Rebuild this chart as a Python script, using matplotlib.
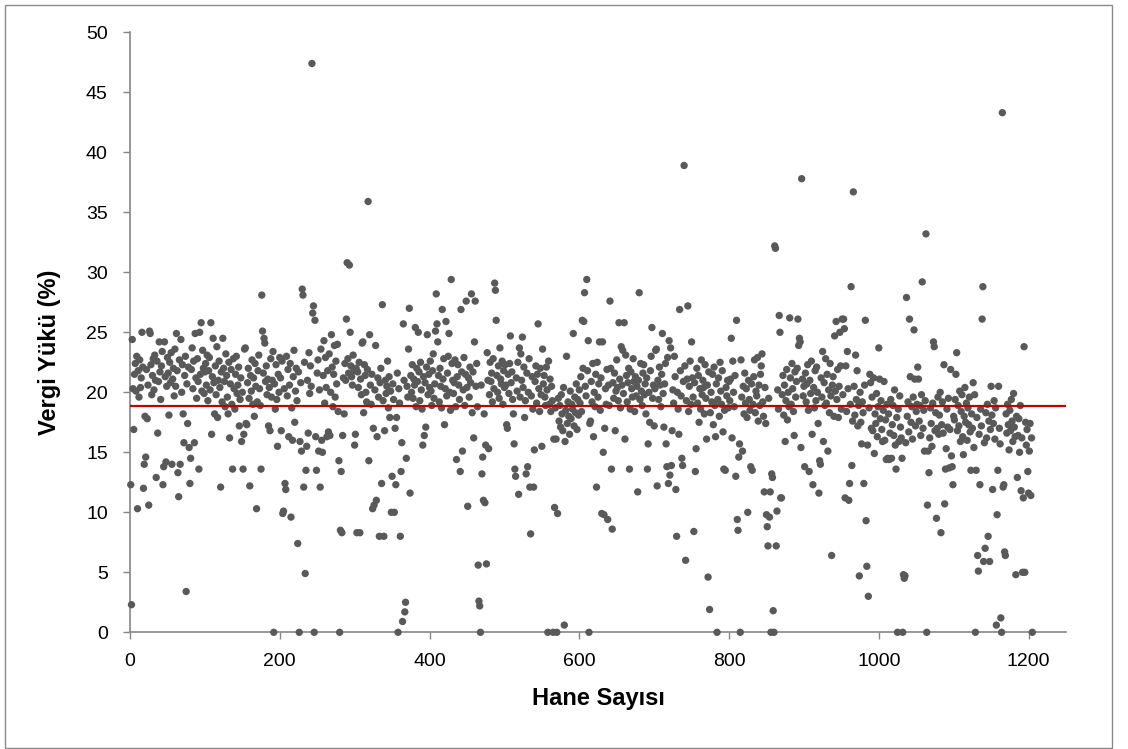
import numpy as np
import matplotlib
matplotlib.use("Agg")
import matplotlib.pyplot as plt
from matplotlib.patches import Rectangle

plt.rcParams['font.family'] = ['Liberation Sans', 'DejaVu Sans']

# ---- data: tax burden (%) per household, households numbered 1..1205 ----
vergi_001 = [12.3, 2.3, 24.4, 20.3, 16.9, 21.5, 22.4, 20.1, 23.0, 10.3,
             21.8, 19.6, 22.7, 20.4, 21.2, 25.0, 22.1, 12.0, 14.0, 18.0,
             14.6, 21.9, 17.8, 20.6, 10.6, 25.1, 24.9, 22.3, 19.8, 21.4,
             22.8, 20.2, 23.1, 21.0, 12.9, 22.6, 16.6, 20.9, 24.2, 21.7,
             19.4, 22.2, 23.4, 12.3, 13.8, 24.2, 21.3, 14.2, 20.5, 22.9]
vergi_051 = [21.6, 18.1, 22.5, 20.8, 23.3, 14.0, 21.1, 22.0, 19.7, 23.6,
             20.5, 24.9, 21.8, 13.3, 11.3, 22.7, 14.0, 24.4, 20.0, 22.3,
             18.2, 15.8, 21.4, 23.0, 3.4, 20.7, 17.4, 22.1, 15.4, 12.4,
             14.5, 21.9, 23.7, 20.3, 22.6, 15.8, 24.9, 21.2, 19.5, 22.8,
             20.9, 13.6, 25.0, 21.5, 25.8, 20.1, 23.5, 22.0, 19.9, 21.7]
vergi_101 = [22.4, 20.6, 23.1, 19.3, 21.8, 22.9, 20.2, 25.8, 16.5, 21.3,
             24.5, 20.8, 18.2, 22.2, 19.8, 23.8, 17.9, 21.0, 22.6, 20.4,
             12.1, 21.7, 19.2, 24.5, 22.0, 20.9, 18.8, 23.2, 21.4, 19.6,
             18.2, 22.5, 16.2, 20.7, 21.9, 19.0, 13.6, 22.8, 20.3, 18.6,
             21.5, 23.0, 19.9, 20.6, 22.1, 17.2, 19.4, 21.2, 15.9, 20.0]
vergi_151 = [13.6, 16.5, 23.6, 23.7, 17.4, 17.3, 20.8, 22.0, 19.5, 12.2,
             21.4, 20.1, 22.7, 19.0, 21.2, 18.0, 22.4, 20.5, 10.3, 19.2,
             21.8, 23.1, 20.3, 18.9, 13.6, 28.1, 25.1, 21.6, 24.5, 24.1,
             20.9, 22.2, 19.8, 21.1, 17.2, 20.4, 16.8, 22.8, 19.6, 21.0,
             23.4, 0.0, 20.7, 18.6, 22.3, 19.4, 15.5, 21.5, 20.0, 22.9]
vergi_201 = [21.2, 16.8, 22.6, 9.9, 10.1, 20.3, 12.4, 11.9, 23.0, 19.7,
             21.9, 16.3, 20.6, 22.4, 9.6, 18.7, 16.0, 21.3, 23.5, 17.5,
             20.1, 22.0, 19.3, 7.4, 21.7, 0.0, 15.9, 20.8, 15.1, 28.6,
             28.1, 12.1, 22.5, 4.9, 13.5, 15.5, 21.0, 16.6, 23.3, 19.9,
             22.2, 20.5, 47.4, 26.6, 27.2, 0.0, 26.0, 16.3, 13.5, 21.6]
vergi_251 = [22.7, 15.1, 20.2, 12.1, 23.6, 16.0, 15.0, 21.4, 24.3, 19.1,
             22.9, 20.4, 16.3, 21.8, 16.7, 23.2, 16.4, 20.0, 24.8, 22.1,
             18.8, 21.5, 23.9, 19.6, 22.6, 20.7, 24.0, 18.4, 14.3, 0.0,
             8.5, 13.4, 8.3, 16.4, 21.2, 18.2, 22.4, 21.0, 26.1, 30.8,
             22.8, 21.6, 30.6, 25.0, 22.2, 21.3, 20.6, 23.1, 21.8, 15.6]
vergi_301 = [16.5, 22.0, 8.3, 21.7, 20.4, 22.5, 8.3, 21.1, 19.8, 24.1,
             24.2, 18.3, 22.3, 21.4, 20.0, 19.2, 21.9, 35.9, 14.3, 24.8,
             20.6, 19.0, 21.5, 10.3, 17.0, 10.6, 20.2, 23.9, 11.0, 16.3,
             21.2, 19.6, 8.0, 20.8, 22.0, 12.4, 27.3, 19.3, 8.0, 16.8,
             21.0, 19.9, 20.5, 22.6, 18.7, 21.3, 17.9, 20.1, 10.0, 13.0]
vergi_351 = [20.7, 19.4, 10.0, 17.0, 12.3, 17.9, 21.6, 0.0, 20.3, 19.1,
             8.0, 13.4, 15.8, 0.9, 25.7, 21.0, 1.7, 2.5, 14.5, 20.5,
             19.6, 23.6, 27.0, 11.6, 21.4, 20.0, 22.3, 19.5, 21.1, 20.6,
             25.4, 18.8, 22.0, 20.9, 25.0, 21.7, 19.3, 22.5, 20.2, 18.6,
             15.6, 21.3, 16.4, 20.8, 17.1, 22.1, 24.8, 19.8, 21.5, 20.4]
vergi_401 = [22.6, 20.1, 18.9, 21.8, 23.2, 19.5, 20.7, 25.1, 28.2, 25.7,
             24.2, 21.4, 19.2, 22.0, 20.5, 18.7, 26.9, 21.1, 22.8, 17.3,
             20.3, 25.9, 19.7, 21.6, 23.0, 24.9, 20.0, 18.5, 29.4, 22.4,
             21.0, 19.9, 20.8, 22.7, 18.8, 14.4, 21.3, 22.3, 20.6, 19.4,
             13.4, 26.9, 21.7, 15.1, 20.2, 22.9, 18.9, 21.5, 27.6, 20.4]
vergi_451 = [10.5, 21.2, 19.6, 22.1, 20.8, 28.2, 18.3, 21.7, 16.2, 24.2,
             27.6, 20.5, 22.4, 18.8, 5.6, 2.6, 2.2, 0.0, 20.6, 13.2,
             14.6, 11.0, 18.2, 10.8, 15.6, 5.7, 23.3, 21.0, 15.3, 19.8,
             22.5, 20.9, 21.6, 19.2, 22.8, 20.3, 29.1, 28.5, 26.0, 21.4,
             20.0, 22.2, 19.5, 23.7, 21.1, 20.7, 22.6, 19.0, 21.8, 20.4]
vergi_501 = [22.3, 20.6, 17.3, 17.0, 21.5, 19.9, 22.4, 24.7, 20.8, 21.7,
             19.4, 18.2, 15.7, 13.6, 13.0, 21.2, 20.1, 22.5, 11.5, 23.7,
             19.6, 23.2, 21.0, 24.6, 20.4, 22.1, 17.9, 19.3, 13.2, 21.6,
             13.8, 20.0, 22.8, 12.1, 8.2, 19.7, 21.3, 18.6, 12.1, 15.2,
             20.9, 22.2, 19.1, 21.5, 25.7, 20.3, 18.4, 22.0, 19.8, 15.5]
vergi_551 = [23.6, 20.7, 21.4, 19.6, 18.9, 22.1, 20.2, 0.0, 22.6, 19.0,
             21.1, 18.4, 20.5, 19.3, 0.0, 16.1, 10.4, 18.7, 16.1, 0.0,
             9.9, 19.5, 17.6, 18.9, 17.1, 19.8, 18.2, 16.8, 20.4, 0.6,
             15.9, 18.5, 23.0, 17.4, 19.2, 18.0, 16.5, 20.1, 17.8, 19.0,
             18.6, 24.9, 17.2, 19.6, 18.3, 20.7, 16.9, 19.4, 18.1, 20.2]
vergi_601 = [19.1, 21.3, 18.4, 26.0, 22.0, 25.9, 28.3, 20.5, 19.7, 29.4,
             21.8, 24.3, 0.0, 17.4, 17.6, 20.9, 19.2, 22.4, 16.3, 20.0,
             18.8, 21.5, 12.1, 22.5, 19.6, 20.7, 24.2, 18.5, 21.2, 9.9,
             24.2, 15.0, 9.8, 17.0, 20.3, 19.0, 21.9, 9.4, 20.6, 18.9,
             27.6, 22.0, 13.6, 8.6, 20.8, 19.5, 21.6, 16.8, 20.1, 22.7]
vergi_651 = [20.4, 19.3, 25.8, 21.1, 18.7, 23.8, 20.6, 23.5, 19.9, 25.8,
             16.1, 23.1, 21.4, 19.2, 20.8, 22.0, 13.6, 18.6, 21.7, 20.3,
             19.6, 22.8, 20.9, 18.4, 21.3, 19.7, 20.5, 11.7, 21.0, 28.3,
             19.4, 22.4, 20.1, 18.9, 21.6, 22.3, 19.8, 20.7, 18.2, 21.2,
             13.6, 15.7, 20.0, 17.5, 21.8, 23.0, 25.4, 19.5, 20.6, 17.2]
vergi_701 = [20.3, 23.5, 23.6, 12.2, 21.0, 19.4, 22.1, 20.6, 18.8, 21.5,
             24.9, 19.9, 17.1, 20.7, 22.4, 15.7, 13.8, 22.9, 12.4, 24.3,
             13.1, 23.7, 13.9, 16.8, 20.2, 19.1, 23.0, 21.3, 11.9, 8.0,
             20.0, 18.6, 16.5, 26.9, 21.8, 19.7, 14.5, 13.9, 20.9, 38.9,
             22.2, 6.0, 19.3, 21.1, 27.2, 18.4, 20.5, 22.6, 19.0, 24.2]
vergi_751 = [21.2, 19.6, 8.4, 20.8, 13.4, 15.3, 22.0, 19.1, 21.4, 17.5,
             20.3, 18.6, 22.7, 19.8, 21.0, 20.4, 18.2, 22.3, 19.5, 16.1,
             20.6, 4.6, 21.7, 1.9, 18.3, 20.0, 19.2, 21.5, 17.3, 22.1,
             18.9, 16.3, 20.7, 0.0, 19.4, 21.2, 18.0, 22.5, 20.1, 19.0,
             21.8, 16.7, 13.6, 18.5, 13.5, 20.4, 19.7, 21.0, 18.7, 20.9]
vergi_801 = [19.3, 21.1, 24.5, 16.2, 22.6, 20.0, 18.8, 21.4, 13.0, 26.0,
             9.4, 8.5, 14.6, 15.7, 0.0, 22.7, 19.6, 15.1, 20.5, 18.2,
             21.6, 19.1, 20.3, 17.9, 10.0, 21.0, 19.4, 18.5, 13.8, 20.7,
             13.5, 19.0, 21.3, 22.7, 18.3, 20.1, 19.7, 22.9, 17.6, 20.6,
             18.9, 21.5, 22.2, 23.2, 19.2, 18.0, 11.7, 20.4, 17.4, 9.8]
vergi_851 = [8.8, 7.2, 19.5, 9.6, 11.7, 0.0, 13.2, 12.9, 1.8, 0.0,
             32.2, 32.0, 7.2, 10.1, 20.2, 18.6, 26.4, 25.0, 11.2, 11.2,
             19.8, 21.4, 18.1, 20.6, 15.9, 19.3, 21.9, 17.7, 20.0, 18.8,
             26.2, 21.2, 19.0, 22.4, 20.3, 18.4, 16.4, 21.7, 19.6, 20.9,
             22.0, 26.1, 23.9, 24.5, 24.2, 15.4, 37.8, 21.1, 19.7, 20.5]
vergi_901 = [13.8, 21.6, 19.2, 20.7, 22.3, 18.5, 13.4, 21.0, 19.9, 22.6,
             16.5, 12.3, 20.4, 18.7, 21.8, 19.3, 22.1, 20.0, 17.4, 11.6,
             14.3, 14.0, 21.2, 19.6, 23.4, 15.9, 20.8, 18.9, 22.8, 19.1,
             21.5, 15.1, 20.2, 18.3, 22.4, 19.7, 6.4, 20.6, 21.3, 18.0,
             24.7, 20.1, 25.9, 19.4, 21.9, 17.9, 20.5, 25.0, 22.2, 18.6]
vergi_951 = [26.1, 19.8, 26.1, 25.3, 11.2, 22.2, 18.4, 23.4, 20.3, 11.0,
             12.4, 19.0, 28.8, 13.9, 17.6, 36.7, 20.5, 18.1, 23.1, 19.4,
             21.8, 17.2, 18.9, 4.7, 20.0, 17.5, 15.7, 19.2, 18.3, 12.4,
             20.6, 26.0, 9.3, 5.5, 15.6, 3.0, 18.7, 21.5, 20.8, 17.0,
             19.6, 16.8, 21.2, 14.9, 18.2, 17.4, 19.9, 16.3, 18.8, 23.7]
vergi_1001 = [21.1, 17.8, 19.3, 16.9, 15.9, 18.5, 20.9, 16.0, 17.7, 14.4,
              19.0, 14.5, 18.2, 14.4, 16.6, 19.4, 14.5, 17.3, 18.9, 16.4,
              20.2, 15.6, 13.6, 17.9, 0.0, 18.6, 15.9, 19.7, 17.1, 16.2,
              14.5, 0.0, 4.8, 4.5, 4.7, 15.8, 27.9, 18.0, 19.2, 16.7,
              26.1, 21.3, 17.5, 18.8, 16.1, 19.6, 25.2, 21.1, 17.2, 18.4]
vergi_1051 = [19.0, 22.1, 21.1, 17.6, 18.9, 16.4, 19.8, 29.2, 17.0, 18.5,
              15.1, 19.3, 33.2, 0.0, 10.6, 15.1, 13.3, 16.2, 18.7, 17.4,
              15.5, 19.1, 24.2, 23.8, 16.8, 18.3, 9.5, 17.0, 19.6, 16.5,
              18.1, 20.0, 8.3, 17.3, 19.2, 16.6, 22.3, 10.7, 13.6, 15.3,
              18.6, 17.1, 19.5, 13.7, 16.9, 21.9, 14.7, 13.8, 12.3, 18.0]
vergi_1101 = [17.7, 19.4, 21.5, 23.3, 16.8, 18.9, 17.2, 20.1, 15.9, 18.4,
              19.8, 16.3, 14.8, 18.0, 20.4, 17.5, 19.1, 16.0, 18.7, 17.3,
              19.6, 16.7, 13.5, 18.2, 17.0, 20.8, 15.4, 19.8, 0.0, 13.5,
              17.9, 6.4, 5.1, 16.5, 12.3, 18.6, 17.2, 26.1, 28.8, 5.9,
              15.8, 7.0, 18.3, 16.2, 19.0, 8.0, 17.6, 5.9, 16.9, 20.5]
vergi_1151 = [18.1, 11.9, 17.4, 19.3, 16.1, 18.7, 0.6, 9.8, 13.5, 20.5,
              17.0, 15.7, 1.2, 0.0, 43.3, 12.1, 12.3, 6.7, 6.4, 18.2,
              16.6, 19.0, 17.3, 15.2, 18.5, 16.8, 19.4, 17.6, 15.9, 19.9,
              17.1, 16.3, 4.8, 18.0, 12.9, 16.4, 17.8, 15.0, 18.9, 11.8,
              16.2, 5.0, 11.2, 23.8, 5.0, 17.5, 15.6, 16.9, 13.4, 11.6]
vergi_1201 = [15.1, 17.4, 11.4, 16.2, 0.0]

ortalama = 18.9  # red average line

x_ticks = [0, 200, 400, 600, 800, 1000, 1200]
y_ticks = [0, 5, 10, 15, 20, 25, 30, 35, 40, 45, 50]

vergi = np.array(vergi_001 + vergi_051 + vergi_101 + vergi_151 + vergi_201 +
                 vergi_251 + vergi_301 + vergi_351 + vergi_401 + vergi_451 +
                 vergi_501 + vergi_551 + vergi_601 + vergi_651 + vergi_701 +
                 vergi_751 + vergi_801 + vergi_851 + vergi_901 + vergi_951 +
                 vergi_1001 + vergi_1051 + vergi_1101 + vergi_1151 + vergi_1201)
hane = np.arange(1, len(vergi) + 1)

W, H = 1128, 749
fig = plt.figure(figsize=(W / 100, H / 100), dpi=100)
fig.patch.set_facecolor('white')

left, right, top, bottom = 130, 1066, 32.3, 632.3
ax = fig.add_axes([left / W, 1 - bottom / H, (right - left) / W, (bottom - top) / H])

ax.scatter(hane, vergi, s=28, color='#595959', edgecolors='none', zorder=3, clip_on=False)
ax.plot([0, 1250], [ortalama, ortalama], color='#C00000', lw=1.6, zorder=4)

ax.set_xlim(0, 1250)
ax.set_ylim(0, 50)
ax.set_xticks(x_ticks)
ax.set_yticks(y_ticks)
ax.tick_params(axis='both', direction='out', length=5, width=1, color='#868686',
               labelsize=14, labelcolor='black')
ax.tick_params(axis='y', pad=11)
ax.tick_params(axis='x', pad=10)
for s in ['top', 'right']:
    ax.spines[s].set_visible(False)
for s in ['left', 'bottom']:
    ax.spines[s].set_color('#868686')
    ax.spines[s].set_linewidth(1.2)

fig.text((left + right) / 2 / W, 1 - 698 / H, 'Hane Sayısı', ha='center', va='center',
         fontsize=17, fontweight='bold')
fig.text(50 / W, 1 - 352 / H, 'Vergi Yükü (%)', ha='center', va='center',
         rotation=90, fontsize=17, fontweight='bold')

fig.add_artist(Rectangle((5 / W, 1 / H), (1112 - 5) / W, (746 - 3) / H,
                         transform=fig.transFigure, fill=False, edgecolor='#8a8a8a', lw=1))

fig.savefig('out.png', dpi=100)
